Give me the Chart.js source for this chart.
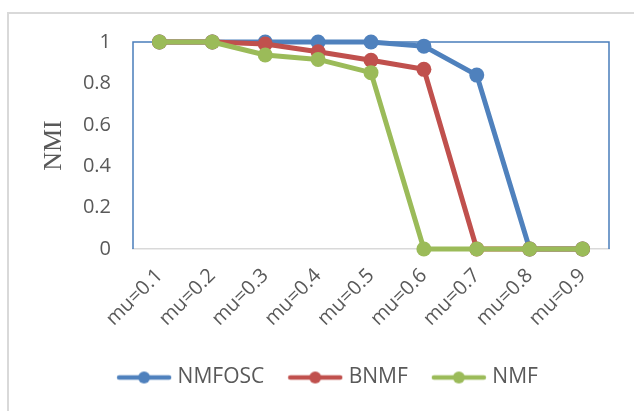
<!DOCTYPE html>
<html>
<head>
<meta charset="utf-8">
<script src="https://cdn.jsdelivr.net/npm/chart.js@4.4.1/dist/chart.umd.min.js"></script>
<style>
  html, body { margin: 0; padding: 0; background: #fff; }
  #wrap { position: relative; width: 634px; height: 411px; overflow: hidden; }
  #frame { position: absolute; left: 7px; top: 12px; width: 700px; height: 500px;
           border-left: 2px solid #d9d9d9; border-top: 2px solid #d9d9d9; }
  #nmiChart { position: absolute; left: 0; top: 0; }
</style>
</head>
<body>
<div id="wrap">
  <div id="frame"></div>
  <canvas id="nmiChart" width="634" height="411"></canvas>
</div>
<script>
const categories = ["mu=0.1", "mu=0.2", "mu=0.3", "mu=0.4", "mu=0.5", "mu=0.6", "mu=0.7", "mu=0.8", "mu=0.9"];
const nmfoscValues = [1, 1, 1, 1, 1, 0.98, 0.84, 0, 0];
const bnmfValues = [1, 1, 0.99, 0.953, 0.912, 0.868, 0, 0, 0];
const nmfValues = [1, 1, 0.937, 0.916, 0.852, 0, 0, 0, 0];
const yTicks = [0, 0.2, 0.4, 0.6, 0.8, 1];

const colors = { nmfosc: "#4f81bd", bnmf: "#c0504d", nmf: "#9bbb59" };
const textColor = "#595959";

// legend marker: short line with a dot in the middle, like Excel
const makeMarker = color => {
    const c = document.createElement("canvas");
    c.width = 56;
    c.height = 16;
    const g = c.getContext("2d");
    g.strokeStyle = color;
    g.lineWidth = 4.5;
    g.lineCap = "round";
    g.beginPath();
    g.moveTo(3, 8);
    g.lineTo(53, 8);
    g.stroke();
    g.fillStyle = color;
    g.beginPath();
    g.arc(28, 8, 6, 0, Math.PI * 2);
    g.fill();
    return c;
};
const markers = [makeMarker(colors.nmfosc), makeMarker(colors.bnmf), makeMarker(colors.nmf)];

// blue border on the left, top and right of the plot area
const plotBorder = {
    id: "plotBorder",
    beforeDatasetsDraw(chart) {
        const { ctx, chartArea: { left, top, right, bottom } } = chart;
        ctx.save();
        ctx.strokeStyle = "#4a7ebb";
        ctx.lineWidth = 1.5;
        ctx.beginPath();
        ctx.moveTo(left, bottom);
        ctx.lineTo(left, top);
        ctx.lineTo(right, top);
        ctx.lineTo(right, bottom);
        ctx.stroke();
        ctx.restore();
    }
};

// Excel centres the legend on the whole chart, not on the area left of the right padding
const legendShift = {
    id: "legendShift",
    afterLayout(chart) {
        if (!chart.legend) return;
        chart.legend.left += 25;
        chart.legend.right += 25;
    }
};

const lineSet = (label, data, color, order) => ({
    label,
    data,
    borderColor: color,
    backgroundColor: color,
    pointBackgroundColor: color,
    pointBorderColor: color,
    borderWidth: 5,
    pointRadius: 7.5,
    pointBorderWidth: 0,
    borderJoinStyle: "round",
    borderCapStyle: "round",
    tension: 0,
    clip: false,
    order
});

new Chart(document.getElementById("nmiChart"), {
    type: "line",
    data: {
        labels: categories,
        datasets: [
            lineSet("NMFOSC", nmfoscValues, colors.nmfosc, 2),
            lineSet("BNMF", bnmfValues, colors.bnmf, 1),
            lineSet("NMF", nmfValues, colors.nmf, 0)
        ]
    },
    options: {
        responsive: false,
        animation: false,
        layout: { padding: { left: 0, top: 42, right: 25, bottom: 13 } },
        plugins: {
            tooltip: { enabled: false },
            legend: {
                position: "bottom",
                labels: {
                    usePointStyle: true,
                    pointStyleWidth: 46,
                    padding: 28,
                    color: textColor,
                    font: { family: "'Open Sans'", size: 21 },
                    sort: (a, b) => a.datasetIndex - b.datasetIndex,
                    generateLabels: chart => {
                        const items = Chart.defaults.plugins.legend.labels.generateLabels(chart);
                        items.forEach(item => { item.pointStyle = markers[item.datasetIndex]; });
                        return items;
                    }
                }
            }
        },
        scales: {
            x: {
                offset: true,
                grid: { display: false, drawTicks: false },
                border: { color: "#d9d9d9", width: 1.5 },
                ticks: {
                    minRotation: 45,
                    maxRotation: 45,
                    padding: 15,
                    color: textColor,
                    font: { family: "'Open Sans'", size: 20 }
                },
                afterFit: scale => { scale.height = 90; }
            },
            y: {
                min: 0,
                max: 1,
                grid: { display: false, drawTicks: false },
                border: { display: false },
                afterBuildTicks: scale => { scale.ticks = yTicks.map(v => ({ value: v })); },
                ticks: {
                    padding: 22,
                    color: textColor,
                    font: { family: "'Open Sans'", size: 20 },
                    callback: value => String(value)
                },
                title: {
                    display: true,
                    text: "NMI",
                    color: textColor,
                    font: { family: "'Liberation Serif'", size: 26 },
                    padding: { top: 39, bottom: 0 }
                },
                afterFit: scale => { scale.width = 133; }
            }
        }
    },
    plugins: [plotBorder, legendShift]
});
</script>
</body>
</html>
